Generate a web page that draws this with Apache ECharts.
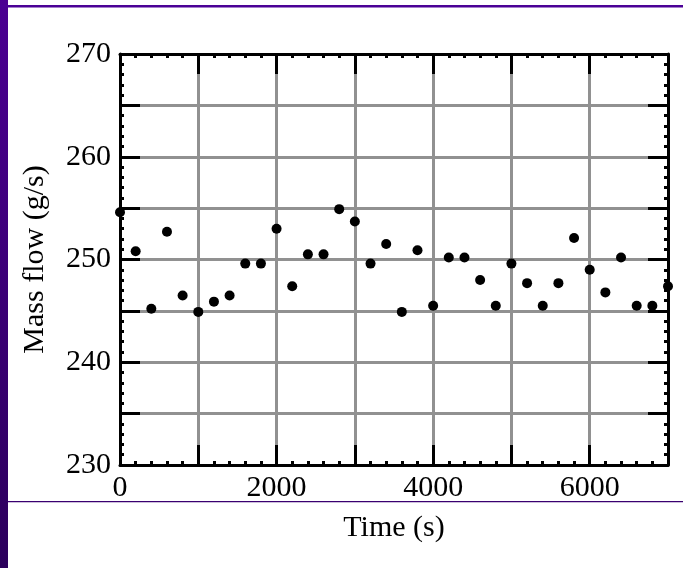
<!DOCTYPE html>
<html>
<head>
<meta charset="utf-8">
<script src="https://cdn.jsdelivr.net/npm/echarts@6/dist/echarts.min.js"></script>
<style>
html,body{margin:0;padding:0;background:#fff;}
#c{width:683px;height:568px;}
</style>
</head>
<body>
<div id="c"></div>
<script>
// Data
var times = [0,200,400,600,800,1000,1200,1400,1600,1800,2000,2200,2400,2600,2800,3000,3200,3400,3600,3800,4000,4200,4400,4600,4800,5000,5200,5400,5600,5800,6000,6200,6400,6600,6800,7000];
var massFlow = [254.6,250.8,245.2,252.7,246.5,244.9,245.9,246.5,249.6,249.6,253.0,247.4,250.5,250.5,254.9,253.7,249.6,251.5,244.9,250.9,245.5,250.2,250.2,248.0,245.5,249.6,247.7,245.5,247.7,252.1,249.0,246.8,250.2,245.5,245.5,247.4];
var xTickLabels = [0,2000,4000,6000];
var yTickLabels = [230,240,250,260,270];
var xTitle = 'Time (s)';
var yTitle = 'Mass flow (g/s)';

var pts = times.map(function(t,i){return [t, massFlow[i]];});
var FONT = '"Liberation Serif", "Times New Roman", serif';
var gridColor = '#919191';

function xAxisCfg(pos, show){
  return {
    type:'value', position:pos, min:0, max:7000, interval:1000,
    axisLine:{show:true, onZero:false, lineStyle:{color:'#000', width:3}},
    axisTick:{show:true, inside:true, length:20, lineStyle:{color:'#000', width:3}},
    minorTick:{show:true, splitNumber:5, length:4, lineStyle:{color:'#000', width:3}},
    splitLine:{show:show, lineStyle:{color:gridColor, width:3}},
    axisLabel:{show:show, margin:8, color:'#000', fontFamily:FONT, fontSize:30,
      formatter:function(v){return xTickLabels.indexOf(v)>=0 ? String(v) : '';}},
    name: show ? xTitle : '', nameLocation:'middle', nameGap:48,
    nameTextStyle:{color:'#000', fontFamily:FONT, fontSize:30}
  };
}
function yAxisCfg(pos, show){
  return {
    type:'value', position:pos, min:230, max:270, interval:5,
    axisLine:{show:true, onZero:false, lineStyle:{color:'#000', width:3}},
    axisTick:{show:true, inside:true, length:20, lineStyle:{color:'#000', width:3}},
    minorTick:{show:true, splitNumber:5, length:4, lineStyle:{color:'#000', width:3}},
    splitLine:{show:show, lineStyle:{color:gridColor, width:3}},
    axisLabel:{show:show, margin:9, color:'#000', fontFamily:FONT, fontSize:30,
      formatter:function(v){return yTickLabels.indexOf(v)>=0 ? String(v) : '';}},
    name: show ? yTitle : '', nameLocation:'middle', nameGap:70,
    nameTextStyle:{color:'#000', fontFamily:FONT, fontSize:30}
  };
}

var chart = echarts.init(document.getElementById('c'), null, {renderer:'canvas'});
chart.setOption({
  animation:false,
  backgroundColor:'#fff',
  grid:{left:120, right:15, top:54, bottom:103, containLabel:false},
  xAxis:[xAxisCfg('bottom', true), xAxisCfg('top', false)],
  yAxis:[yAxisCfg('left', true), yAxisCfg('right', false)],
  graphic:[
    {type:'rect', left:0, top:0, shape:{width:8, height:568}, z:100,
     style:{fill:new echarts.graphic.LinearGradient(0,0,0,1,[{offset:0,color:'#4b0092'},{offset:1,color:'#2c005c'}])}},
    {type:'rect', left:0, top:5, shape:{width:683, height:2.5}, z:100, style:{fill:'#4b0096'}},
    {type:'rect', left:8, top:501, shape:{width:675, height:1.2}, z:100, style:{fill:'#3a0070'}}
  ],
  series:[{
    type:'scatter', xAxisIndex:0, yAxisIndex:0,
    data:pts, symbol:'circle', symbolSize:10, z:10,
    itemStyle:{color:'#000', opacity:1}
  }]
});
</script>
</body>
</html>
